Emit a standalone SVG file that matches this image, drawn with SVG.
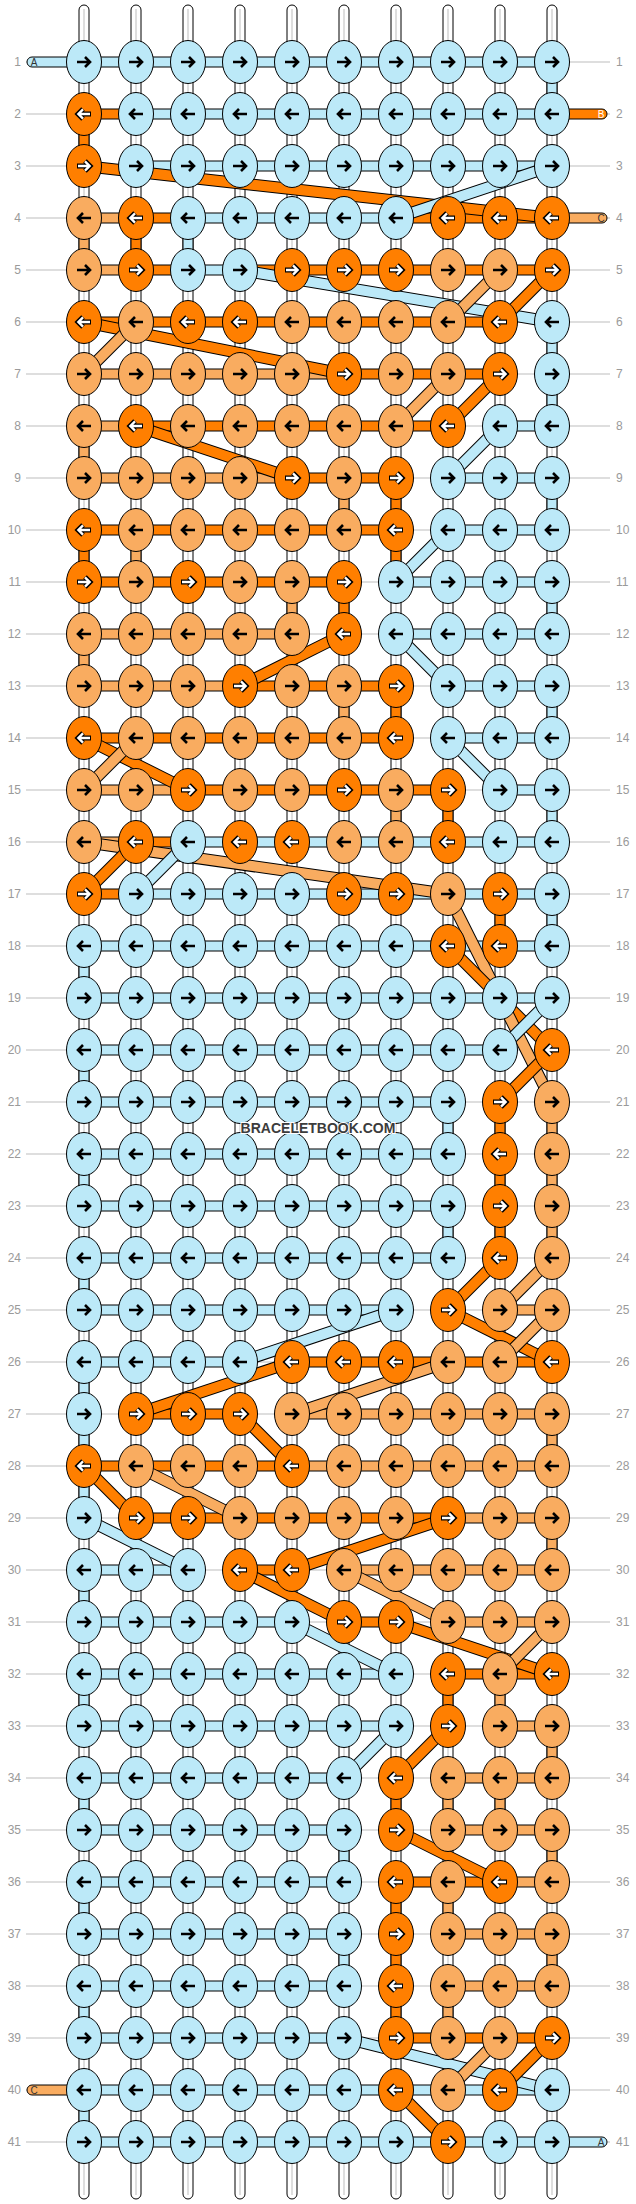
<svg xmlns="http://www.w3.org/2000/svg" xmlns:xlink="http://www.w3.org/1999/xlink" width="636" height="2204" viewBox="0 0 636 2204">
<style>
.gl{stroke:#bdbdbd;stroke-width:1}
.w{fill:#fff;stroke:#000;stroke-width:1}
.wc{stroke:#d6d6d6;stroke-width:1.6}
.L{fill:#bce9f8;stroke:#000;stroke-width:1}
.P{fill:#f9ac60;stroke:#000;stroke-width:1}
.O{fill:#ff7f00;stroke:#000;stroke-width:1}
.k{stroke:#000;stroke-width:12}
.dL{stroke:#bce9f8;stroke-width:10}
.dP{stroke:#f9ac60;stroke-width:10}
.dO{stroke:#ff7f00;stroke-width:10}
.lb{font-family:"Liberation Sans",Arial,sans-serif;font-size:12px;fill:#9a9a9a}
.cap{font-family:"Liberation Sans",Arial,sans-serif;font-size:10px;fill:#333;text-anchor:middle}
</style>
<defs>
<path id="ab" d="M-7,0H5.5M1,-5L6,0L1,5" fill="none" stroke="#000" stroke-width="2.6"/>
<g id="aw"><path d="M-7,0H5.5M1,-5L6,0L1,5" fill="none" stroke="#000" stroke-width="5"/><path d="M-6,0H5M1,-4.6L5.6,0L1,4.6" fill="none" stroke="#fff" stroke-width="2.4"/></g>
<g id="Lr"><ellipse class="L" rx="17.5" ry="21.5"/><use href="#ab"/></g>
<g id="Ll"><ellipse class="L" rx="17.5" ry="21.5"/><use href="#ab" transform="scale(-1,1)"/></g>
<g id="Pr"><ellipse class="P" rx="17.5" ry="21.5"/><use href="#ab"/></g>
<g id="Pl"><ellipse class="P" rx="17.5" ry="21.5"/><use href="#ab" transform="scale(-1,1)"/></g>
<g id="Or"><ellipse class="O" rx="17.5" ry="21.5"/><use href="#aw"/></g>
<g id="Ol"><ellipse class="O" rx="17.5" ry="21.5"/><use href="#aw" transform="scale(-1,1)"/></g>
</defs>
<rect width="636" height="2204" fill="#fff"/>
<g id="rowlines">
<line class="gl" x1="26" y1="62" x2="610" y2="62"/><line class="gl" x1="26" y1="114" x2="610" y2="114"/><line class="gl" x1="26" y1="166" x2="610" y2="166"/><line class="gl" x1="26" y1="218" x2="610" y2="218"/><line class="gl" x1="26" y1="270" x2="610" y2="270"/><line class="gl" x1="26" y1="322" x2="610" y2="322"/><line class="gl" x1="26" y1="374" x2="610" y2="374"/><line class="gl" x1="26" y1="426" x2="610" y2="426"/><line class="gl" x1="26" y1="478" x2="610" y2="478"/><line class="gl" x1="26" y1="530" x2="610" y2="530"/><line class="gl" x1="26" y1="582" x2="610" y2="582"/><line class="gl" x1="26" y1="634" x2="610" y2="634"/><line class="gl" x1="26" y1="686" x2="610" y2="686"/><line class="gl" x1="26" y1="738" x2="610" y2="738"/><line class="gl" x1="26" y1="790" x2="610" y2="790"/><line class="gl" x1="26" y1="842" x2="610" y2="842"/><line class="gl" x1="26" y1="894" x2="610" y2="894"/><line class="gl" x1="26" y1="946" x2="610" y2="946"/><line class="gl" x1="26" y1="998" x2="610" y2="998"/><line class="gl" x1="26" y1="1050" x2="610" y2="1050"/><line class="gl" x1="26" y1="1102" x2="610" y2="1102"/><line class="gl" x1="26" y1="1154" x2="610" y2="1154"/><line class="gl" x1="26" y1="1206" x2="610" y2="1206"/><line class="gl" x1="26" y1="1258" x2="610" y2="1258"/><line class="gl" x1="26" y1="1310" x2="610" y2="1310"/><line class="gl" x1="26" y1="1362" x2="610" y2="1362"/><line class="gl" x1="26" y1="1414" x2="610" y2="1414"/><line class="gl" x1="26" y1="1466" x2="610" y2="1466"/><line class="gl" x1="26" y1="1518" x2="610" y2="1518"/><line class="gl" x1="26" y1="1570" x2="610" y2="1570"/><line class="gl" x1="26" y1="1622" x2="610" y2="1622"/><line class="gl" x1="26" y1="1674" x2="610" y2="1674"/><line class="gl" x1="26" y1="1726" x2="610" y2="1726"/><line class="gl" x1="26" y1="1778" x2="610" y2="1778"/><line class="gl" x1="26" y1="1830" x2="610" y2="1830"/><line class="gl" x1="26" y1="1882" x2="610" y2="1882"/><line class="gl" x1="26" y1="1934" x2="610" y2="1934"/><line class="gl" x1="26" y1="1986" x2="610" y2="1986"/><line class="gl" x1="26" y1="2038" x2="610" y2="2038"/><line class="gl" x1="26" y1="2090" x2="610" y2="2090"/><line class="gl" x1="26" y1="2142" x2="610" y2="2142"/>
</g>
<g id="labels">
<text class="lb" text-anchor="end" x="21" y="66">1</text><text class="lb" x="616" y="66">1</text>
<text class="lb" text-anchor="end" x="21" y="118">2</text><text class="lb" x="616" y="118">2</text>
<text class="lb" text-anchor="end" x="21" y="170">3</text><text class="lb" x="616" y="170">3</text>
<text class="lb" text-anchor="end" x="21" y="222">4</text><text class="lb" x="616" y="222">4</text>
<text class="lb" text-anchor="end" x="21" y="274">5</text><text class="lb" x="616" y="274">5</text>
<text class="lb" text-anchor="end" x="21" y="326">6</text><text class="lb" x="616" y="326">6</text>
<text class="lb" text-anchor="end" x="21" y="378">7</text><text class="lb" x="616" y="378">7</text>
<text class="lb" text-anchor="end" x="21" y="430">8</text><text class="lb" x="616" y="430">8</text>
<text class="lb" text-anchor="end" x="21" y="482">9</text><text class="lb" x="616" y="482">9</text>
<text class="lb" text-anchor="end" x="21" y="534">10</text><text class="lb" x="616" y="534">10</text>
<text class="lb" text-anchor="end" x="21" y="586">11</text><text class="lb" x="616" y="586">11</text>
<text class="lb" text-anchor="end" x="21" y="638">12</text><text class="lb" x="616" y="638">12</text>
<text class="lb" text-anchor="end" x="21" y="690">13</text><text class="lb" x="616" y="690">13</text>
<text class="lb" text-anchor="end" x="21" y="742">14</text><text class="lb" x="616" y="742">14</text>
<text class="lb" text-anchor="end" x="21" y="794">15</text><text class="lb" x="616" y="794">15</text>
<text class="lb" text-anchor="end" x="21" y="846">16</text><text class="lb" x="616" y="846">16</text>
<text class="lb" text-anchor="end" x="21" y="898">17</text><text class="lb" x="616" y="898">17</text>
<text class="lb" text-anchor="end" x="21" y="950">18</text><text class="lb" x="616" y="950">18</text>
<text class="lb" text-anchor="end" x="21" y="1002">19</text><text class="lb" x="616" y="1002">19</text>
<text class="lb" text-anchor="end" x="21" y="1054">20</text><text class="lb" x="616" y="1054">20</text>
<text class="lb" text-anchor="end" x="21" y="1106">21</text><text class="lb" x="616" y="1106">21</text>
<text class="lb" text-anchor="end" x="21" y="1158">22</text><text class="lb" x="616" y="1158">22</text>
<text class="lb" text-anchor="end" x="21" y="1210">23</text><text class="lb" x="616" y="1210">23</text>
<text class="lb" text-anchor="end" x="21" y="1262">24</text><text class="lb" x="616" y="1262">24</text>
<text class="lb" text-anchor="end" x="21" y="1314">25</text><text class="lb" x="616" y="1314">25</text>
<text class="lb" text-anchor="end" x="21" y="1366">26</text><text class="lb" x="616" y="1366">26</text>
<text class="lb" text-anchor="end" x="21" y="1418">27</text><text class="lb" x="616" y="1418">27</text>
<text class="lb" text-anchor="end" x="21" y="1470">28</text><text class="lb" x="616" y="1470">28</text>
<text class="lb" text-anchor="end" x="21" y="1522">29</text><text class="lb" x="616" y="1522">29</text>
<text class="lb" text-anchor="end" x="21" y="1574">30</text><text class="lb" x="616" y="1574">30</text>
<text class="lb" text-anchor="end" x="21" y="1626">31</text><text class="lb" x="616" y="1626">31</text>
<text class="lb" text-anchor="end" x="21" y="1678">32</text><text class="lb" x="616" y="1678">32</text>
<text class="lb" text-anchor="end" x="21" y="1730">33</text><text class="lb" x="616" y="1730">33</text>
<text class="lb" text-anchor="end" x="21" y="1782">34</text><text class="lb" x="616" y="1782">34</text>
<text class="lb" text-anchor="end" x="21" y="1834">35</text><text class="lb" x="616" y="1834">35</text>
<text class="lb" text-anchor="end" x="21" y="1886">36</text><text class="lb" x="616" y="1886">36</text>
<text class="lb" text-anchor="end" x="21" y="1938">37</text><text class="lb" x="616" y="1938">37</text>
<text class="lb" text-anchor="end" x="21" y="1990">38</text><text class="lb" x="616" y="1990">38</text>
<text class="lb" text-anchor="end" x="21" y="2042">39</text><text class="lb" x="616" y="2042">39</text>
<text class="lb" text-anchor="end" x="21" y="2094">40</text><text class="lb" x="616" y="2094">40</text>
<text class="lb" text-anchor="end" x="21" y="2146">41</text><text class="lb" x="616" y="2146">41</text>
</g>
<g id="connectors">
<g id="warps">
<rect class="w" x="79" y="5" width="10" height="2194" rx="5"/><line class="wc" x1="84" y1="9" x2="84" y2="2195"/>
<rect class="w" x="131" y="5" width="10" height="2194" rx="5"/><line class="wc" x1="136" y1="9" x2="136" y2="2195"/>
<rect class="w" x="183" y="5" width="10" height="2194" rx="5"/><line class="wc" x1="188" y1="9" x2="188" y2="2195"/>
<rect class="w" x="235" y="5" width="10" height="2194" rx="5"/><line class="wc" x1="240" y1="9" x2="240" y2="2195"/>
<rect class="w" x="287" y="5" width="10" height="2194" rx="5"/><line class="wc" x1="292" y1="9" x2="292" y2="2195"/>
<rect class="w" x="339" y="5" width="10" height="2194" rx="5"/><line class="wc" x1="344" y1="9" x2="344" y2="2195"/>
<rect class="w" x="391" y="5" width="10" height="2194" rx="5"/><line class="wc" x1="396" y1="9" x2="396" y2="2195"/>
<rect class="w" x="443" y="5" width="10" height="2194" rx="5"/><line class="wc" x1="448" y1="9" x2="448" y2="2195"/>
<rect class="w" x="495" y="5" width="10" height="2194" rx="5"/><line class="wc" x1="500" y1="9" x2="500" y2="2195"/>
<rect class="w" x="547" y="5" width="10" height="2194" rx="5"/><line class="wc" x1="552" y1="9" x2="552" y2="2195"/>
</g>
<g id="vertical">
<rect class="L" x="547" y="62" width="10" height="52"/>
<rect class="O" x="79" y="114" width="10" height="52"/>
<rect class="P" x="79" y="218" width="10" height="52"/><rect class="O" x="131" y="218" width="10" height="52"/><rect class="L" x="183" y="218" width="10" height="52"/>
<rect class="L" x="547" y="322" width="10" height="52"/>
<rect class="L" x="547" y="374" width="10" height="52"/>
<rect class="P" x="79" y="426" width="10" height="52"/>
<rect class="P" x="339" y="478" width="10" height="52"/><rect class="O" x="391" y="478" width="10" height="52"/><rect class="L" x="547" y="478" width="10" height="52"/>
<rect class="O" x="79" y="530" width="10" height="52"/><rect class="P" x="131" y="530" width="10" height="52"/><rect class="O" x="391" y="530" width="10" height="52"/>
<rect class="P" x="287" y="582" width="10" height="52"/><rect class="O" x="339" y="582" width="10" height="52"/><rect class="L" x="547" y="582" width="10" height="52"/>
<rect class="P" x="79" y="634" width="10" height="52"/>
<rect class="P" x="339" y="686" width="10" height="52"/><rect class="O" x="391" y="686" width="10" height="52"/><rect class="L" x="547" y="686" width="10" height="52"/>
<rect class="P" x="391" y="790" width="10" height="52"/><rect class="O" x="443" y="790" width="10" height="52"/><rect class="L" x="547" y="790" width="10" height="52"/>
<rect class="O" x="495" y="894" width="10" height="52"/><rect class="L" x="547" y="894" width="10" height="52"/>
<rect class="L" x="79" y="946" width="10" height="52"/>
<rect class="L" x="79" y="1050" width="10" height="52"/>
<rect class="L" x="443" y="1102" width="10" height="52"/><rect class="O" x="495" y="1102" width="10" height="52"/><rect class="P" x="547" y="1102" width="10" height="52"/>
<rect class="L" x="79" y="1154" width="10" height="52"/><rect class="O" x="495" y="1154" width="10" height="52"/><rect class="P" x="547" y="1154" width="10" height="52"/>
<rect class="L" x="443" y="1206" width="10" height="52"/><rect class="O" x="495" y="1206" width="10" height="52"/><rect class="P" x="547" y="1206" width="10" height="52"/>
<rect class="L" x="79" y="1258" width="10" height="52"/>
<rect class="L" x="79" y="1362" width="10" height="52"/>
<rect class="L" x="79" y="1414" width="10" height="52"/><rect class="P" x="547" y="1414" width="10" height="52"/>
<rect class="L" x="79" y="1466" width="10" height="52"/>
<rect class="P" x="547" y="1518" width="10" height="52"/>
<rect class="L" x="79" y="1570" width="10" height="52"/>
<rect class="L" x="79" y="1674" width="10" height="52"/><rect class="O" x="443" y="1674" width="10" height="52"/><rect class="P" x="495" y="1674" width="10" height="52"/>
<rect class="P" x="547" y="1726" width="10" height="52"/>
<rect class="L" x="79" y="1778" width="10" height="52"/><rect class="O" x="391" y="1778" width="10" height="52"/><rect class="P" x="443" y="1778" width="10" height="52"/><rect class="P" x="495" y="1778" width="10" height="52"/>
<rect class="L" x="339" y="1830" width="10" height="52"/><rect class="P" x="547" y="1830" width="10" height="52"/>
<rect class="L" x="79" y="1882" width="10" height="52"/><rect class="O" x="391" y="1882" width="10" height="52"/><rect class="P" x="443" y="1882" width="10" height="52"/>
<rect class="L" x="339" y="1934" width="10" height="52"/><rect class="O" x="391" y="1934" width="10" height="52"/><rect class="P" x="547" y="1934" width="10" height="52"/>
<rect class="L" x="79" y="1986" width="10" height="52"/><rect class="O" x="391" y="1986" width="10" height="52"/><rect class="P" x="443" y="1986" width="10" height="52"/>
<rect class="L" x="79" y="2090" width="10" height="52"/>
</g>
<g id="horizontal">
<rect class="L" x="27" y="57" width="60" height="10" rx="5"/><rect class="L" x="84" y="57" width="468" height="10"/>
<rect class="O" x="84" y="109" width="52" height="10"/><rect class="L" x="136" y="109" width="416" height="10"/><rect class="O" x="549" y="109" width="58" height="10" rx="5"/>
<rect class="L" x="136" y="161" width="416" height="10"/>
<rect class="P" x="84" y="213" width="52" height="10"/><rect class="O" x="136" y="213" width="52" height="10"/><rect class="L" x="188" y="213" width="208" height="10"/><rect class="O" x="396" y="213" width="156" height="10"/><rect class="P" x="549" y="213" width="58" height="10" rx="5"/>
<rect class="P" x="84" y="265" width="52" height="10"/><rect class="O" x="136" y="265" width="52" height="10"/><rect class="L" x="188" y="265" width="52" height="10"/><rect class="O" x="240" y="265" width="312" height="10"/>
<rect class="O" x="84" y="317" width="416" height="10"/>
<rect class="P" x="84" y="369" width="260" height="10"/><rect class="O" x="344" y="369" width="156" height="10"/>
<rect class="P" x="84" y="421" width="52" height="10"/><rect class="O" x="136" y="421" width="312" height="10"/><rect class="L" x="500" y="421" width="52" height="10"/>
<rect class="P" x="84" y="473" width="208" height="10"/><rect class="O" x="292" y="473" width="104" height="10"/><rect class="L" x="448" y="473" width="104" height="10"/>
<rect class="O" x="84" y="525" width="312" height="10"/><rect class="L" x="448" y="525" width="104" height="10"/>
<rect class="O" x="84" y="577" width="260" height="10"/><rect class="L" x="396" y="577" width="156" height="10"/>
<rect class="P" x="84" y="629" width="208" height="10"/><rect class="L" x="396" y="629" width="156" height="10"/>
<rect class="P" x="84" y="681" width="156" height="10"/><rect class="O" x="240" y="681" width="156" height="10"/><rect class="L" x="448" y="681" width="104" height="10"/>
<rect class="O" x="84" y="733" width="312" height="10"/><rect class="L" x="448" y="733" width="104" height="10"/>
<rect class="P" x="84" y="785" width="104" height="10"/><rect class="O" x="188" y="785" width="260" height="10"/><rect class="L" x="500" y="785" width="52" height="10"/>
<rect class="P" x="84" y="837" width="52" height="10"/><rect class="O" x="136" y="837" width="52" height="10"/><rect class="L" x="188" y="837" width="364" height="10"/>
<rect class="O" x="84" y="889" width="52" height="10"/><rect class="L" x="136" y="889" width="416" height="10"/>
<rect class="L" x="84" y="941" width="468" height="10"/>
<rect class="L" x="84" y="993" width="468" height="10"/>
<rect class="L" x="84" y="1045" width="416" height="10"/>
<rect class="L" x="84" y="1097" width="364" height="10"/>
<rect class="L" x="84" y="1149" width="364" height="10"/>
<rect class="L" x="84" y="1201" width="364" height="10"/>
<rect class="L" x="84" y="1253" width="364" height="10"/>
<rect class="L" x="84" y="1305" width="312" height="10"/><rect class="P" x="500" y="1305" width="52" height="10"/>
<rect class="L" x="84" y="1357" width="156" height="10"/><rect class="O" x="292" y="1357" width="260" height="10"/>
<rect class="O" x="136" y="1409" width="104" height="10"/><rect class="P" x="292" y="1409" width="260" height="10"/>
<rect class="O" x="84" y="1461" width="208" height="10"/><rect class="P" x="292" y="1461" width="260" height="10"/>
<rect class="O" x="136" y="1513" width="312" height="10"/><rect class="P" x="448" y="1513" width="104" height="10"/>
<rect class="L" x="84" y="1565" width="104" height="10"/><rect class="O" x="240" y="1565" width="52" height="10"/><rect class="P" x="344" y="1565" width="208" height="10"/>
<rect class="L" x="84" y="1617" width="208" height="10"/><rect class="O" x="344" y="1617" width="52" height="10"/><rect class="P" x="448" y="1617" width="104" height="10"/>
<rect class="L" x="84" y="1669" width="312" height="10"/><rect class="O" x="448" y="1669" width="104" height="10"/>
<rect class="L" x="84" y="1721" width="312" height="10"/><rect class="P" x="500" y="1721" width="52" height="10"/>
<rect class="L" x="84" y="1773" width="260" height="10"/><rect class="P" x="448" y="1773" width="104" height="10"/>
<rect class="L" x="84" y="1825" width="260" height="10"/><rect class="P" x="448" y="1825" width="104" height="10"/>
<rect class="L" x="84" y="1877" width="260" height="10"/><rect class="O" x="396" y="1877" width="104" height="10"/><rect class="P" x="500" y="1877" width="52" height="10"/>
<rect class="L" x="84" y="1929" width="260" height="10"/><rect class="P" x="448" y="1929" width="104" height="10"/>
<rect class="L" x="84" y="1981" width="260" height="10"/><rect class="P" x="448" y="1981" width="104" height="10"/>
<rect class="L" x="84" y="2033" width="260" height="10"/><rect class="O" x="396" y="2033" width="156" height="10"/>
<rect class="P" x="27" y="2085" width="60" height="10" rx="5"/><rect class="L" x="84" y="2085" width="468" height="10"/>
<rect class="L" x="84" y="2137" width="468" height="10"/><rect class="L" x="549" y="2137" width="58" height="10" rx="5"/>
</g>
<g id="diagonals">
<line class="k" x1="84" y1="166" x2="552" y2="218"/><line class="dO" x1="84" y1="166" x2="552" y2="218"/>
<line class="k" x1="552" y1="166" x2="396" y2="218"/><line class="dL" x1="552" y1="166" x2="396" y2="218"/>
<line class="k" x1="240" y1="270" x2="552" y2="322"/><line class="dL" x1="240" y1="270" x2="552" y2="322"/>
<line class="k" x1="552" y1="270" x2="500" y2="322"/><line class="dO" x1="552" y1="270" x2="500" y2="322"/>
<line class="k" x1="500" y1="270" x2="448" y2="322"/><line class="dP" x1="500" y1="270" x2="448" y2="322"/>
<line class="k" x1="84" y1="322" x2="344" y2="374"/><line class="dO" x1="84" y1="322" x2="344" y2="374"/>
<line class="k" x1="136" y1="322" x2="84" y2="374"/><line class="dP" x1="136" y1="322" x2="84" y2="374"/>
<line class="k" x1="448" y1="374" x2="396" y2="426"/><line class="dP" x1="448" y1="374" x2="396" y2="426"/>
<line class="k" x1="500" y1="374" x2="448" y2="426"/><line class="dO" x1="500" y1="374" x2="448" y2="426"/>
<line class="k" x1="136" y1="426" x2="292" y2="478"/><line class="dO" x1="136" y1="426" x2="292" y2="478"/>
<line class="k" x1="500" y1="426" x2="448" y2="478"/><line class="dL" x1="500" y1="426" x2="448" y2="478"/>
<line class="k" x1="448" y1="530" x2="396" y2="582"/><line class="dL" x1="448" y1="530" x2="396" y2="582"/>
<line class="k" x1="344" y1="634" x2="240" y2="686"/><line class="dO" x1="344" y1="634" x2="240" y2="686"/>
<line class="k" x1="396" y1="634" x2="448" y2="686"/><line class="dL" x1="396" y1="634" x2="448" y2="686"/>
<line class="k" x1="84" y1="738" x2="188" y2="790"/><line class="dO" x1="84" y1="738" x2="188" y2="790"/>
<line class="k" x1="136" y1="738" x2="84" y2="790"/><line class="dP" x1="136" y1="738" x2="84" y2="790"/>
<line class="k" x1="448" y1="738" x2="500" y2="790"/><line class="dL" x1="448" y1="738" x2="500" y2="790"/>
<line class="k" x1="84" y1="842" x2="448" y2="894"/><line class="dP" x1="84" y1="842" x2="448" y2="894"/>
<line class="k" x1="136" y1="842" x2="84" y2="894"/><line class="dO" x1="136" y1="842" x2="84" y2="894"/>
<line class="k" x1="188" y1="842" x2="136" y2="894"/><line class="dL" x1="188" y1="842" x2="136" y2="894"/>
<line class="k" x1="448" y1="894" x2="500" y2="998"/><line class="dP" x1="448" y1="894" x2="500" y2="998"/>
<line class="k" x1="448" y1="946" x2="500" y2="998"/><line class="dO" x1="448" y1="946" x2="500" y2="998"/>
<line class="k" x1="500" y1="998" x2="552" y2="1050"/><line class="dO" x1="500" y1="998" x2="552" y2="1050"/>
<line class="k" x1="500" y1="998" x2="552" y2="1102"/><line class="dP" x1="500" y1="998" x2="552" y2="1102"/>
<line class="k" x1="552" y1="998" x2="500" y2="1050"/><line class="dL" x1="552" y1="998" x2="500" y2="1050"/>
<line class="k" x1="552" y1="1050" x2="500" y2="1102"/><line class="dO" x1="552" y1="1050" x2="500" y2="1102"/>
<line class="k" x1="500" y1="1258" x2="448" y2="1310"/><line class="dO" x1="500" y1="1258" x2="448" y2="1310"/>
<line class="k" x1="552" y1="1258" x2="500" y2="1310"/><line class="dP" x1="552" y1="1258" x2="500" y2="1310"/>
<line class="k" x1="396" y1="1310" x2="240" y2="1362"/><line class="dL" x1="396" y1="1310" x2="240" y2="1362"/>
<line class="k" x1="448" y1="1310" x2="552" y2="1362"/><line class="dO" x1="448" y1="1310" x2="552" y2="1362"/>
<line class="k" x1="552" y1="1310" x2="500" y2="1362"/><line class="dP" x1="552" y1="1310" x2="500" y2="1362"/>
<line class="k" x1="292" y1="1362" x2="136" y2="1414"/><line class="dO" x1="292" y1="1362" x2="136" y2="1414"/>
<line class="k" x1="448" y1="1362" x2="292" y2="1414"/><line class="dP" x1="448" y1="1362" x2="292" y2="1414"/>
<line class="k" x1="240" y1="1414" x2="292" y2="1466"/><line class="dO" x1="240" y1="1414" x2="292" y2="1466"/>
<line class="k" x1="84" y1="1466" x2="136" y2="1518"/><line class="dO" x1="84" y1="1466" x2="136" y2="1518"/>
<line class="k" x1="136" y1="1466" x2="240" y2="1518"/><line class="dP" x1="136" y1="1466" x2="240" y2="1518"/>
<line class="k" x1="84" y1="1518" x2="188" y2="1570"/><line class="dL" x1="84" y1="1518" x2="188" y2="1570"/>
<line class="k" x1="448" y1="1518" x2="292" y2="1570"/><line class="dO" x1="448" y1="1518" x2="292" y2="1570"/>
<line class="k" x1="240" y1="1570" x2="344" y2="1622"/><line class="dO" x1="240" y1="1570" x2="344" y2="1622"/>
<line class="k" x1="344" y1="1570" x2="448" y2="1622"/><line class="dP" x1="344" y1="1570" x2="448" y2="1622"/>
<line class="k" x1="396" y1="1622" x2="552" y2="1674"/><line class="dO" x1="396" y1="1622" x2="552" y2="1674"/>
<line class="k" x1="292" y1="1622" x2="396" y2="1674"/><line class="dL" x1="292" y1="1622" x2="396" y2="1674"/>
<line class="k" x1="552" y1="1622" x2="500" y2="1674"/><line class="dP" x1="552" y1="1622" x2="500" y2="1674"/>
<line class="k" x1="448" y1="1726" x2="396" y2="1778"/><line class="dO" x1="448" y1="1726" x2="396" y2="1778"/>
<line class="k" x1="396" y1="1726" x2="344" y2="1778"/><line class="dL" x1="396" y1="1726" x2="344" y2="1778"/>
<line class="k" x1="396" y1="1830" x2="500" y2="1882"/><line class="dO" x1="396" y1="1830" x2="500" y2="1882"/>
<line class="k" x1="344" y1="2038" x2="552" y2="2090"/><line class="dL" x1="344" y1="2038" x2="552" y2="2090"/>
<line class="k" x1="500" y1="2038" x2="448" y2="2090"/><line class="dP" x1="500" y1="2038" x2="448" y2="2090"/>
<line class="k" x1="552" y1="2038" x2="500" y2="2090"/><line class="dO" x1="552" y1="2038" x2="500" y2="2090"/>
<line class="k" x1="396" y1="2090" x2="448" y2="2142"/><line class="dO" x1="396" y1="2090" x2="448" y2="2142"/>
</g>
</g>
<g id="ends">
<text class="cap" x="34" y="65.5">A</text>
<text class="cap" x="601" y="117.5" style="fill:#fff">B</text>
<text class="cap" x="601" y="221.5">C</text>
<text class="cap" x="34" y="2093.5">C</text>
<text class="cap" x="601" y="2145.5">A</text>
</g>
<g id="nodes">
<g id="r1" transform="translate(0,62)"><g id="n1-1"><use href="#Lr" x="84"/></g><g id="n1-2"><use href="#Lr" x="136"/></g><g id="n1-3"><use href="#Lr" x="188"/></g><g id="n1-4"><use href="#Lr" x="240"/></g><g id="n1-5"><use href="#Lr" x="292"/></g><g id="n1-6"><use href="#Lr" x="344"/></g><g id="n1-7"><use href="#Lr" x="396"/></g><g id="n1-8"><use href="#Lr" x="448"/></g><g id="n1-9"><use href="#Lr" x="500"/></g><g id="n1-10"><use href="#Lr" x="552"/></g></g>
<g id="r2" transform="translate(0,114)"><g id="n2-1"><use href="#Ol" x="84"/></g><g id="n2-2"><use href="#Ll" x="136"/></g><g id="n2-3"><use href="#Ll" x="188"/></g><g id="n2-4"><use href="#Ll" x="240"/></g><g id="n2-5"><use href="#Ll" x="292"/></g><g id="n2-6"><use href="#Ll" x="344"/></g><g id="n2-7"><use href="#Ll" x="396"/></g><g id="n2-8"><use href="#Ll" x="448"/></g><g id="n2-9"><use href="#Ll" x="500"/></g><g id="n2-10"><use href="#Ll" x="552"/></g></g>
<g id="r3" transform="translate(0,166)"><g id="n3-1"><use href="#Or" x="84"/></g><g id="n3-2"><use href="#Lr" x="136"/></g><g id="n3-3"><use href="#Lr" x="188"/></g><g id="n3-4"><use href="#Lr" x="240"/></g><g id="n3-5"><use href="#Lr" x="292"/></g><g id="n3-6"><use href="#Lr" x="344"/></g><g id="n3-7"><use href="#Lr" x="396"/></g><g id="n3-8"><use href="#Lr" x="448"/></g><g id="n3-9"><use href="#Lr" x="500"/></g><g id="n3-10"><use href="#Lr" x="552"/></g></g>
<g id="r4" transform="translate(0,218)"><g id="n4-1"><use href="#Pl" x="84"/></g><g id="n4-2"><use href="#Ol" x="136"/></g><g id="n4-3"><use href="#Ll" x="188"/></g><g id="n4-4"><use href="#Ll" x="240"/></g><g id="n4-5"><use href="#Ll" x="292"/></g><g id="n4-6"><use href="#Ll" x="344"/></g><g id="n4-7"><use href="#Ll" x="396"/></g><g id="n4-8"><use href="#Ol" x="448"/></g><g id="n4-9"><use href="#Ol" x="500"/></g><g id="n4-10"><use href="#Ol" x="552"/></g></g>
<g id="r5" transform="translate(0,270)"><g id="n5-1"><use href="#Pr" x="84"/></g><g id="n5-2"><use href="#Or" x="136"/></g><g id="n5-3"><use href="#Lr" x="188"/></g><g id="n5-4"><use href="#Lr" x="240"/></g><g id="n5-5"><use href="#Or" x="292"/></g><g id="n5-6"><use href="#Or" x="344"/></g><g id="n5-7"><use href="#Or" x="396"/></g><g id="n5-8"><use href="#Pr" x="448"/></g><g id="n5-9"><use href="#Pr" x="500"/></g><g id="n5-10"><use href="#Or" x="552"/></g></g>
<g id="r6" transform="translate(0,322)"><g id="n6-1"><use href="#Ol" x="84"/></g><g id="n6-2"><use href="#Pl" x="136"/></g><g id="n6-3"><use href="#Ol" x="188"/></g><g id="n6-4"><use href="#Ol" x="240"/></g><g id="n6-5"><use href="#Pl" x="292"/></g><g id="n6-6"><use href="#Pl" x="344"/></g><g id="n6-7"><use href="#Pl" x="396"/></g><g id="n6-8"><use href="#Pl" x="448"/></g><g id="n6-9"><use href="#Ol" x="500"/></g><g id="n6-10"><use href="#Ll" x="552"/></g></g>
<g id="r7" transform="translate(0,374)"><g id="n7-1"><use href="#Pr" x="84"/></g><g id="n7-2"><use href="#Pr" x="136"/></g><g id="n7-3"><use href="#Pr" x="188"/></g><g id="n7-4"><use href="#Pr" x="240"/></g><g id="n7-5"><use href="#Pr" x="292"/></g><g id="n7-6"><use href="#Or" x="344"/></g><g id="n7-7"><use href="#Pr" x="396"/></g><g id="n7-8"><use href="#Pr" x="448"/></g><g id="n7-9"><use href="#Or" x="500"/></g><g id="n7-10"><use href="#Lr" x="552"/></g></g>
<g id="r8" transform="translate(0,426)"><g id="n8-1"><use href="#Pl" x="84"/></g><g id="n8-2"><use href="#Ol" x="136"/></g><g id="n8-3"><use href="#Pl" x="188"/></g><g id="n8-4"><use href="#Pl" x="240"/></g><g id="n8-5"><use href="#Pl" x="292"/></g><g id="n8-6"><use href="#Pl" x="344"/></g><g id="n8-7"><use href="#Pl" x="396"/></g><g id="n8-8"><use href="#Ol" x="448"/></g><g id="n8-9"><use href="#Ll" x="500"/></g><g id="n8-10"><use href="#Ll" x="552"/></g></g>
<g id="r9" transform="translate(0,478)"><g id="n9-1"><use href="#Pr" x="84"/></g><g id="n9-2"><use href="#Pr" x="136"/></g><g id="n9-3"><use href="#Pr" x="188"/></g><g id="n9-4"><use href="#Pr" x="240"/></g><g id="n9-5"><use href="#Or" x="292"/></g><g id="n9-6"><use href="#Pr" x="344"/></g><g id="n9-7"><use href="#Or" x="396"/></g><g id="n9-8"><use href="#Lr" x="448"/></g><g id="n9-9"><use href="#Lr" x="500"/></g><g id="n9-10"><use href="#Lr" x="552"/></g></g>
<g id="r10" transform="translate(0,530)"><g id="n10-1"><use href="#Ol" x="84"/></g><g id="n10-2"><use href="#Pl" x="136"/></g><g id="n10-3"><use href="#Pl" x="188"/></g><g id="n10-4"><use href="#Pl" x="240"/></g><g id="n10-5"><use href="#Pl" x="292"/></g><g id="n10-6"><use href="#Pl" x="344"/></g><g id="n10-7"><use href="#Ol" x="396"/></g><g id="n10-8"><use href="#Ll" x="448"/></g><g id="n10-9"><use href="#Ll" x="500"/></g><g id="n10-10"><use href="#Ll" x="552"/></g></g>
<g id="r11" transform="translate(0,582)"><g id="n11-1"><use href="#Or" x="84"/></g><g id="n11-2"><use href="#Pr" x="136"/></g><g id="n11-3"><use href="#Or" x="188"/></g><g id="n11-4"><use href="#Pr" x="240"/></g><g id="n11-5"><use href="#Pr" x="292"/></g><g id="n11-6"><use href="#Or" x="344"/></g><g id="n11-7"><use href="#Lr" x="396"/></g><g id="n11-8"><use href="#Lr" x="448"/></g><g id="n11-9"><use href="#Lr" x="500"/></g><g id="n11-10"><use href="#Lr" x="552"/></g></g>
<g id="r12" transform="translate(0,634)"><g id="n12-1"><use href="#Pl" x="84"/></g><g id="n12-2"><use href="#Pl" x="136"/></g><g id="n12-3"><use href="#Pl" x="188"/></g><g id="n12-4"><use href="#Pl" x="240"/></g><g id="n12-5"><use href="#Pl" x="292"/></g><g id="n12-6"><use href="#Ol" x="344"/></g><g id="n12-7"><use href="#Ll" x="396"/></g><g id="n12-8"><use href="#Ll" x="448"/></g><g id="n12-9"><use href="#Ll" x="500"/></g><g id="n12-10"><use href="#Ll" x="552"/></g></g>
<g id="r13" transform="translate(0,686)"><g id="n13-1"><use href="#Pr" x="84"/></g><g id="n13-2"><use href="#Pr" x="136"/></g><g id="n13-3"><use href="#Pr" x="188"/></g><g id="n13-4"><use href="#Or" x="240"/></g><g id="n13-5"><use href="#Pr" x="292"/></g><g id="n13-6"><use href="#Pr" x="344"/></g><g id="n13-7"><use href="#Or" x="396"/></g><g id="n13-8"><use href="#Lr" x="448"/></g><g id="n13-9"><use href="#Lr" x="500"/></g><g id="n13-10"><use href="#Lr" x="552"/></g></g>
<g id="r14" transform="translate(0,738)"><g id="n14-1"><use href="#Ol" x="84"/></g><g id="n14-2"><use href="#Pl" x="136"/></g><g id="n14-3"><use href="#Pl" x="188"/></g><g id="n14-4"><use href="#Pl" x="240"/></g><g id="n14-5"><use href="#Pl" x="292"/></g><g id="n14-6"><use href="#Pl" x="344"/></g><g id="n14-7"><use href="#Ol" x="396"/></g><g id="n14-8"><use href="#Ll" x="448"/></g><g id="n14-9"><use href="#Ll" x="500"/></g><g id="n14-10"><use href="#Ll" x="552"/></g></g>
<g id="r15" transform="translate(0,790)"><g id="n15-1"><use href="#Pr" x="84"/></g><g id="n15-2"><use href="#Pr" x="136"/></g><g id="n15-3"><use href="#Or" x="188"/></g><g id="n15-4"><use href="#Pr" x="240"/></g><g id="n15-5"><use href="#Pr" x="292"/></g><g id="n15-6"><use href="#Or" x="344"/></g><g id="n15-7"><use href="#Pr" x="396"/></g><g id="n15-8"><use href="#Or" x="448"/></g><g id="n15-9"><use href="#Lr" x="500"/></g><g id="n15-10"><use href="#Lr" x="552"/></g></g>
<g id="r16" transform="translate(0,842)"><g id="n16-1"><use href="#Pl" x="84"/></g><g id="n16-2"><use href="#Ol" x="136"/></g><g id="n16-3"><use href="#Ll" x="188"/></g><g id="n16-4"><use href="#Ol" x="240"/></g><g id="n16-5"><use href="#Ol" x="292"/></g><g id="n16-6"><use href="#Pl" x="344"/></g><g id="n16-7"><use href="#Pl" x="396"/></g><g id="n16-8"><use href="#Ol" x="448"/></g><g id="n16-9"><use href="#Ll" x="500"/></g><g id="n16-10"><use href="#Ll" x="552"/></g></g>
<g id="r17" transform="translate(0,894)"><g id="n17-1"><use href="#Or" x="84"/></g><g id="n17-2"><use href="#Lr" x="136"/></g><g id="n17-3"><use href="#Lr" x="188"/></g><g id="n17-4"><use href="#Lr" x="240"/></g><g id="n17-5"><use href="#Lr" x="292"/></g><g id="n17-6"><use href="#Or" x="344"/></g><g id="n17-7"><use href="#Or" x="396"/></g><g id="n17-8"><use href="#Pr" x="448"/></g><g id="n17-9"><use href="#Or" x="500"/></g><g id="n17-10"><use href="#Lr" x="552"/></g></g>
<g id="r18" transform="translate(0,946)"><g id="n18-1"><use href="#Ll" x="84"/></g><g id="n18-2"><use href="#Ll" x="136"/></g><g id="n18-3"><use href="#Ll" x="188"/></g><g id="n18-4"><use href="#Ll" x="240"/></g><g id="n18-5"><use href="#Ll" x="292"/></g><g id="n18-6"><use href="#Ll" x="344"/></g><g id="n18-7"><use href="#Ll" x="396"/></g><g id="n18-8"><use href="#Ol" x="448"/></g><g id="n18-9"><use href="#Ol" x="500"/></g><g id="n18-10"><use href="#Ll" x="552"/></g></g>
<g id="r19" transform="translate(0,998)"><g id="n19-1"><use href="#Lr" x="84"/></g><g id="n19-2"><use href="#Lr" x="136"/></g><g id="n19-3"><use href="#Lr" x="188"/></g><g id="n19-4"><use href="#Lr" x="240"/></g><g id="n19-5"><use href="#Lr" x="292"/></g><g id="n19-6"><use href="#Lr" x="344"/></g><g id="n19-7"><use href="#Lr" x="396"/></g><g id="n19-8"><use href="#Lr" x="448"/></g><g id="n19-9"><use href="#Lr" x="500"/></g><g id="n19-10"><use href="#Lr" x="552"/></g></g>
<g id="r20" transform="translate(0,1050)"><g id="n20-1"><use href="#Ll" x="84"/></g><g id="n20-2"><use href="#Ll" x="136"/></g><g id="n20-3"><use href="#Ll" x="188"/></g><g id="n20-4"><use href="#Ll" x="240"/></g><g id="n20-5"><use href="#Ll" x="292"/></g><g id="n20-6"><use href="#Ll" x="344"/></g><g id="n20-7"><use href="#Ll" x="396"/></g><g id="n20-8"><use href="#Ll" x="448"/></g><g id="n20-9"><use href="#Ll" x="500"/></g><g id="n20-10"><use href="#Ol" x="552"/></g></g>
<g id="r21" transform="translate(0,1102)"><g id="n21-1"><use href="#Lr" x="84"/></g><g id="n21-2"><use href="#Lr" x="136"/></g><g id="n21-3"><use href="#Lr" x="188"/></g><g id="n21-4"><use href="#Lr" x="240"/></g><g id="n21-5"><use href="#Lr" x="292"/></g><g id="n21-6"><use href="#Lr" x="344"/></g><g id="n21-7"><use href="#Lr" x="396"/></g><g id="n21-8"><use href="#Lr" x="448"/></g><g id="n21-9"><use href="#Or" x="500"/></g><g id="n21-10"><use href="#Pr" x="552"/></g></g>
<g id="r22" transform="translate(0,1154)"><g id="n22-1"><use href="#Ll" x="84"/></g><g id="n22-2"><use href="#Ll" x="136"/></g><g id="n22-3"><use href="#Ll" x="188"/></g><g id="n22-4"><use href="#Ll" x="240"/></g><g id="n22-5"><use href="#Ll" x="292"/></g><g id="n22-6"><use href="#Ll" x="344"/></g><g id="n22-7"><use href="#Ll" x="396"/></g><g id="n22-8"><use href="#Ll" x="448"/></g><g id="n22-9"><use href="#Ol" x="500"/></g><g id="n22-10"><use href="#Pl" x="552"/></g></g>
<g id="r23" transform="translate(0,1206)"><g id="n23-1"><use href="#Lr" x="84"/></g><g id="n23-2"><use href="#Lr" x="136"/></g><g id="n23-3"><use href="#Lr" x="188"/></g><g id="n23-4"><use href="#Lr" x="240"/></g><g id="n23-5"><use href="#Lr" x="292"/></g><g id="n23-6"><use href="#Lr" x="344"/></g><g id="n23-7"><use href="#Lr" x="396"/></g><g id="n23-8"><use href="#Lr" x="448"/></g><g id="n23-9"><use href="#Or" x="500"/></g><g id="n23-10"><use href="#Pr" x="552"/></g></g>
<g id="r24" transform="translate(0,1258)"><g id="n24-1"><use href="#Ll" x="84"/></g><g id="n24-2"><use href="#Ll" x="136"/></g><g id="n24-3"><use href="#Ll" x="188"/></g><g id="n24-4"><use href="#Ll" x="240"/></g><g id="n24-5"><use href="#Ll" x="292"/></g><g id="n24-6"><use href="#Ll" x="344"/></g><g id="n24-7"><use href="#Ll" x="396"/></g><g id="n24-8"><use href="#Ll" x="448"/></g><g id="n24-9"><use href="#Ol" x="500"/></g><g id="n24-10"><use href="#Pl" x="552"/></g></g>
<g id="r25" transform="translate(0,1310)"><g id="n25-1"><use href="#Lr" x="84"/></g><g id="n25-2"><use href="#Lr" x="136"/></g><g id="n25-3"><use href="#Lr" x="188"/></g><g id="n25-4"><use href="#Lr" x="240"/></g><g id="n25-5"><use href="#Lr" x="292"/></g><g id="n25-6"><use href="#Lr" x="344"/></g><g id="n25-7"><use href="#Lr" x="396"/></g><g id="n25-8"><use href="#Or" x="448"/></g><g id="n25-9"><use href="#Pr" x="500"/></g><g id="n25-10"><use href="#Pr" x="552"/></g></g>
<g id="r26" transform="translate(0,1362)"><g id="n26-1"><use href="#Ll" x="84"/></g><g id="n26-2"><use href="#Ll" x="136"/></g><g id="n26-3"><use href="#Ll" x="188"/></g><g id="n26-4"><use href="#Ll" x="240"/></g><g id="n26-5"><use href="#Ol" x="292"/></g><g id="n26-6"><use href="#Ol" x="344"/></g><g id="n26-7"><use href="#Ol" x="396"/></g><g id="n26-8"><use href="#Pl" x="448"/></g><g id="n26-9"><use href="#Pl" x="500"/></g><g id="n26-10"><use href="#Ol" x="552"/></g></g>
<g id="r27" transform="translate(0,1414)"><g id="n27-1"><use href="#Lr" x="84"/></g><g id="n27-2"><use href="#Or" x="136"/></g><g id="n27-3"><use href="#Or" x="188"/></g><g id="n27-4"><use href="#Or" x="240"/></g><g id="n27-5"><use href="#Pr" x="292"/></g><g id="n27-6"><use href="#Pr" x="344"/></g><g id="n27-7"><use href="#Pr" x="396"/></g><g id="n27-8"><use href="#Pr" x="448"/></g><g id="n27-9"><use href="#Pr" x="500"/></g><g id="n27-10"><use href="#Pr" x="552"/></g></g>
<g id="r28" transform="translate(0,1466)"><g id="n28-1"><use href="#Ol" x="84"/></g><g id="n28-2"><use href="#Pl" x="136"/></g><g id="n28-3"><use href="#Pl" x="188"/></g><g id="n28-4"><use href="#Pl" x="240"/></g><g id="n28-5"><use href="#Ol" x="292"/></g><g id="n28-6"><use href="#Pl" x="344"/></g><g id="n28-7"><use href="#Pl" x="396"/></g><g id="n28-8"><use href="#Pl" x="448"/></g><g id="n28-9"><use href="#Pl" x="500"/></g><g id="n28-10"><use href="#Pl" x="552"/></g></g>
<g id="r29" transform="translate(0,1518)"><g id="n29-1"><use href="#Lr" x="84"/></g><g id="n29-2"><use href="#Or" x="136"/></g><g id="n29-3"><use href="#Or" x="188"/></g><g id="n29-4"><use href="#Pr" x="240"/></g><g id="n29-5"><use href="#Pr" x="292"/></g><g id="n29-6"><use href="#Pr" x="344"/></g><g id="n29-7"><use href="#Pr" x="396"/></g><g id="n29-8"><use href="#Or" x="448"/></g><g id="n29-9"><use href="#Pr" x="500"/></g><g id="n29-10"><use href="#Pr" x="552"/></g></g>
<g id="r30" transform="translate(0,1570)"><g id="n30-1"><use href="#Ll" x="84"/></g><g id="n30-2"><use href="#Ll" x="136"/></g><g id="n30-3"><use href="#Ll" x="188"/></g><g id="n30-4"><use href="#Ol" x="240"/></g><g id="n30-5"><use href="#Ol" x="292"/></g><g id="n30-6"><use href="#Pl" x="344"/></g><g id="n30-7"><use href="#Pl" x="396"/></g><g id="n30-8"><use href="#Pl" x="448"/></g><g id="n30-9"><use href="#Pl" x="500"/></g><g id="n30-10"><use href="#Pl" x="552"/></g></g>
<g id="r31" transform="translate(0,1622)"><g id="n31-1"><use href="#Lr" x="84"/></g><g id="n31-2"><use href="#Lr" x="136"/></g><g id="n31-3"><use href="#Lr" x="188"/></g><g id="n31-4"><use href="#Lr" x="240"/></g><g id="n31-5"><use href="#Lr" x="292"/></g><g id="n31-6"><use href="#Or" x="344"/></g><g id="n31-7"><use href="#Or" x="396"/></g><g id="n31-8"><use href="#Pr" x="448"/></g><g id="n31-9"><use href="#Pr" x="500"/></g><g id="n31-10"><use href="#Pr" x="552"/></g></g>
<g id="r32" transform="translate(0,1674)"><g id="n32-1"><use href="#Ll" x="84"/></g><g id="n32-2"><use href="#Ll" x="136"/></g><g id="n32-3"><use href="#Ll" x="188"/></g><g id="n32-4"><use href="#Ll" x="240"/></g><g id="n32-5"><use href="#Ll" x="292"/></g><g id="n32-6"><use href="#Ll" x="344"/></g><g id="n32-7"><use href="#Ll" x="396"/></g><g id="n32-8"><use href="#Ol" x="448"/></g><g id="n32-9"><use href="#Pl" x="500"/></g><g id="n32-10"><use href="#Ol" x="552"/></g></g>
<g id="r33" transform="translate(0,1726)"><g id="n33-1"><use href="#Lr" x="84"/></g><g id="n33-2"><use href="#Lr" x="136"/></g><g id="n33-3"><use href="#Lr" x="188"/></g><g id="n33-4"><use href="#Lr" x="240"/></g><g id="n33-5"><use href="#Lr" x="292"/></g><g id="n33-6"><use href="#Lr" x="344"/></g><g id="n33-7"><use href="#Lr" x="396"/></g><g id="n33-8"><use href="#Or" x="448"/></g><g id="n33-9"><use href="#Pr" x="500"/></g><g id="n33-10"><use href="#Pr" x="552"/></g></g>
<g id="r34" transform="translate(0,1778)"><g id="n34-1"><use href="#Ll" x="84"/></g><g id="n34-2"><use href="#Ll" x="136"/></g><g id="n34-3"><use href="#Ll" x="188"/></g><g id="n34-4"><use href="#Ll" x="240"/></g><g id="n34-5"><use href="#Ll" x="292"/></g><g id="n34-6"><use href="#Ll" x="344"/></g><g id="n34-7"><use href="#Ol" x="396"/></g><g id="n34-8"><use href="#Pl" x="448"/></g><g id="n34-9"><use href="#Pl" x="500"/></g><g id="n34-10"><use href="#Pl" x="552"/></g></g>
<g id="r35" transform="translate(0,1830)"><g id="n35-1"><use href="#Lr" x="84"/></g><g id="n35-2"><use href="#Lr" x="136"/></g><g id="n35-3"><use href="#Lr" x="188"/></g><g id="n35-4"><use href="#Lr" x="240"/></g><g id="n35-5"><use href="#Lr" x="292"/></g><g id="n35-6"><use href="#Lr" x="344"/></g><g id="n35-7"><use href="#Or" x="396"/></g><g id="n35-8"><use href="#Pr" x="448"/></g><g id="n35-9"><use href="#Pr" x="500"/></g><g id="n35-10"><use href="#Pr" x="552"/></g></g>
<g id="r36" transform="translate(0,1882)"><g id="n36-1"><use href="#Ll" x="84"/></g><g id="n36-2"><use href="#Ll" x="136"/></g><g id="n36-3"><use href="#Ll" x="188"/></g><g id="n36-4"><use href="#Ll" x="240"/></g><g id="n36-5"><use href="#Ll" x="292"/></g><g id="n36-6"><use href="#Ll" x="344"/></g><g id="n36-7"><use href="#Ol" x="396"/></g><g id="n36-8"><use href="#Pl" x="448"/></g><g id="n36-9"><use href="#Ol" x="500"/></g><g id="n36-10"><use href="#Pl" x="552"/></g></g>
<g id="r37" transform="translate(0,1934)"><g id="n37-1"><use href="#Lr" x="84"/></g><g id="n37-2"><use href="#Lr" x="136"/></g><g id="n37-3"><use href="#Lr" x="188"/></g><g id="n37-4"><use href="#Lr" x="240"/></g><g id="n37-5"><use href="#Lr" x="292"/></g><g id="n37-6"><use href="#Lr" x="344"/></g><g id="n37-7"><use href="#Or" x="396"/></g><g id="n37-8"><use href="#Pr" x="448"/></g><g id="n37-9"><use href="#Pr" x="500"/></g><g id="n37-10"><use href="#Pr" x="552"/></g></g>
<g id="r38" transform="translate(0,1986)"><g id="n38-1"><use href="#Ll" x="84"/></g><g id="n38-2"><use href="#Ll" x="136"/></g><g id="n38-3"><use href="#Ll" x="188"/></g><g id="n38-4"><use href="#Ll" x="240"/></g><g id="n38-5"><use href="#Ll" x="292"/></g><g id="n38-6"><use href="#Ll" x="344"/></g><g id="n38-7"><use href="#Ol" x="396"/></g><g id="n38-8"><use href="#Pl" x="448"/></g><g id="n38-9"><use href="#Pl" x="500"/></g><g id="n38-10"><use href="#Pl" x="552"/></g></g>
<g id="r39" transform="translate(0,2038)"><g id="n39-1"><use href="#Lr" x="84"/></g><g id="n39-2"><use href="#Lr" x="136"/></g><g id="n39-3"><use href="#Lr" x="188"/></g><g id="n39-4"><use href="#Lr" x="240"/></g><g id="n39-5"><use href="#Lr" x="292"/></g><g id="n39-6"><use href="#Lr" x="344"/></g><g id="n39-7"><use href="#Or" x="396"/></g><g id="n39-8"><use href="#Pr" x="448"/></g><g id="n39-9"><use href="#Pr" x="500"/></g><g id="n39-10"><use href="#Or" x="552"/></g></g>
<g id="r40" transform="translate(0,2090)"><g id="n40-1"><use href="#Ll" x="84"/></g><g id="n40-2"><use href="#Ll" x="136"/></g><g id="n40-3"><use href="#Ll" x="188"/></g><g id="n40-4"><use href="#Ll" x="240"/></g><g id="n40-5"><use href="#Ll" x="292"/></g><g id="n40-6"><use href="#Ll" x="344"/></g><g id="n40-7"><use href="#Ol" x="396"/></g><g id="n40-8"><use href="#Pl" x="448"/></g><g id="n40-9"><use href="#Ol" x="500"/></g><g id="n40-10"><use href="#Ll" x="552"/></g></g>
<g id="r41" transform="translate(0,2142)"><g id="n41-1"><use href="#Lr" x="84"/></g><g id="n41-2"><use href="#Lr" x="136"/></g><g id="n41-3"><use href="#Lr" x="188"/></g><g id="n41-4"><use href="#Lr" x="240"/></g><g id="n41-5"><use href="#Lr" x="292"/></g><g id="n41-6"><use href="#Lr" x="344"/></g><g id="n41-7"><use href="#Lr" x="396"/></g><g id="n41-8"><use href="#Or" x="448"/></g><g id="n41-9"><use href="#Lr" x="500"/></g><g id="n41-10"><use href="#Lr" x="552"/></g></g>
</g>
<text id="watermark" x="318" y="1133" text-anchor="middle" style="font-family:'Liberation Sans',Arial,sans-serif;font-size:14px;font-weight:bold;fill:#3c3c3c;stroke:#fff;stroke-width:2;paint-order:stroke">BRACELETBOOK.COM</text>
</svg>
